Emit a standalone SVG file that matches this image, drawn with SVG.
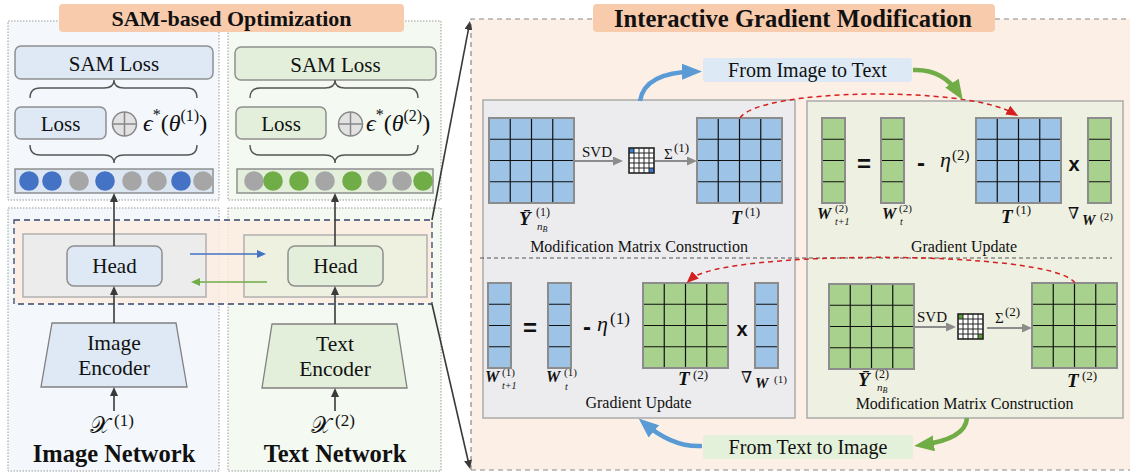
<svg xmlns="http://www.w3.org/2000/svg" width="1130" height="473" viewBox="0 0 1130 473">
<style>
text{font-family:"Liberation Serif","Times New Roman","DejaVu Serif",serif;fill:#111}
.b{font-weight:bold}
.bi{font-weight:bold;font-style:italic}
.i{font-style:italic}
.op{font-family:"Liberation Sans",Arial,sans-serif;font-weight:bold}
.mid{text-anchor:middle}
.panel{stroke:#9a9a9a;stroke-width:1;stroke-dasharray:1.5 1.5}
.box{stroke:#8f8f8f;stroke-width:1.5}
.brace{fill:none;stroke:#555;stroke-width:1.4}
.ar{stroke:#3a3a3a;stroke-width:1.6;fill:none}
.svd{stroke:#8c8c8c;stroke-width:2;fill:none}
.red{stroke:#d42020;stroke-width:1.5;fill:none;stroke-dasharray:5 4}
.big{stroke-width:4.5;fill:none}
.title{fill:#f8cbad}
</style>
<defs>
<marker id="mDark" viewBox="0 0 9 8" refX="3" refY="4" markerWidth="9" markerHeight="8" markerUnits="userSpaceOnUse" orient="auto"><path d="M0,0L9,4L0,8z" fill="#3a3a3a"/></marker>
<marker id="mBlueS" viewBox="0 0 9 8" refX="3" refY="4" markerWidth="9" markerHeight="8" markerUnits="userSpaceOnUse" orient="auto"><path d="M0,0L9,4L0,8z" fill="#4472c4"/></marker>
<marker id="mGreenS" viewBox="0 0 9 8" refX="3" refY="4" markerWidth="9" markerHeight="8" markerUnits="userSpaceOnUse" orient="auto"><path d="M0,0L9,4L0,8z" fill="#70ad47"/></marker>
<marker id="mGray" viewBox="0 0 10 9" refX="4" refY="4.5" markerWidth="10" markerHeight="9" markerUnits="userSpaceOnUse" orient="auto"><path d="M0,0L10,4.5L0,9z" fill="#8c8c8c"/></marker>
<marker id="mRed" viewBox="0 0 12 10" refX="6" refY="5" markerWidth="12" markerHeight="10" markerUnits="userSpaceOnUse" orient="auto"><path d="M0,0L12,5L0,10z" fill="#d42020"/></marker>
<marker id="mBlueB" viewBox="0 0 20 16" refX="13" refY="8" markerWidth="20" markerHeight="16" markerUnits="userSpaceOnUse" orient="auto"><path d="M0,0L20,8L0,16z" fill="#5b9bd5"/></marker>
<marker id="mGreenB" viewBox="0 0 20 16" refX="13" refY="8" markerWidth="20" markerHeight="16" markerUnits="userSpaceOnUse" orient="auto"><path d="M0,0L20,8L0,16z" fill="#70ad47"/></marker>
<g id="mat"><rect width="85" height="85"/><path d="M21.25,0V85M42.5,0V85M63.75,0V85M0,21.25H85M0,42.5H85M0,63.75H85" fill="none" stroke="#111" stroke-width="1.2"/><rect width="85" height="85" fill="none" stroke="#8c8c8c" stroke-width="2"/></g>
<g id="col"><rect width="23" height="85"/><path d="M0,21.25H23M0,42.5H23M0,63.75H23" fill="none" stroke="#111" stroke-width="1.2"/><rect width="23" height="85" fill="none" stroke="#8c8c8c" stroke-width="2"/></g>
<g id="sm"><rect width="25" height="25" fill="#fff"/><rect width="5" height="5"/><rect x="20" y="20" width="5" height="5"/><path d="M5,0V25M10,0V25M15,0V25M20,0V25M0,5H25M0,10H25M0,15H25M0,20H25" fill="none" stroke="#222" stroke-width="1"/><rect width="25" height="25" fill="none" stroke="#222" stroke-width="1.6"/></g>
</defs>

<!-- ===== Left: SAM-based Optimization ===== -->
<g id="panel-image-top"><rect x="8" y="21" width="211" height="179" fill="#f4f8fc" class="panel"/></g>
<g id="panel-text-top"><rect x="228" y="21" width="213" height="179" fill="#f4f9f1" class="panel"/></g>
<g id="panel-image-bottom"><rect x="8" y="208" width="211" height="263" fill="#f4f8fc" class="panel"/></g>
<g id="panel-text-bottom"><rect x="228" y="208" width="213" height="263" fill="#f4f9f1" class="panel"/></g>

<g id="title-sam"><rect x="59" y="4" width="345" height="28" rx="4" class="title"/><text x="231.5" y="26" font-size="22" class="b mid">SAM-based Optimization</text></g>

<g id="sam-loss-image"><rect x="15" y="46" width="198" height="33" rx="6" fill="#dee9f5" class="box"/><text x="114" y="71" font-size="21" class="mid">SAM Loss</text></g>
<g id="sam-loss-text"><rect x="235" y="47" width="201" height="33" rx="6" fill="#e3efda" class="box"/><text x="335.5" y="72" font-size="21" class="mid">SAM Loss</text></g>

<g id="braces">
<path class="brace" d="M30,98Q30,88 40,88L104,88Q114,88 114,80Q114,88 124,88L187,88Q197,88 197,98"/>
<path class="brace" d="M30,145Q30,155 40,155L104,155Q114,155 114,163Q114,155 124,155L187,155Q197,155 197,145"/>
<path class="brace" d="M250,98Q250,88 260,88L325,88Q335,88 335,80Q335,88 345,88L408,88Q418,88 418,98"/>
<path class="brace" d="M250,145Q250,155 260,155L325,155Q335,155 335,163Q335,155 345,155L408,155Q418,155 418,145"/>
</g>

<g id="loss-image"><rect x="15" y="107" width="91" height="32" rx="6" fill="#dee9f5" class="box"/><text x="60.5" y="131" font-size="21" class="mid">Loss</text></g>
<g id="loss-text"><rect x="236" y="107" width="90" height="32" rx="6" fill="#e3efda" class="box"/><text x="281" y="131" font-size="21" class="mid">Loss</text></g>

<g id="plus-image"><circle cx="124.5" cy="124" r="12" fill="#e2e2e2" stroke="#888" stroke-width="1.5"/><path d="M112.5,124H136.5M124.5,112V136" stroke="#888" stroke-width="1.5"/>
<text x="143" y="131" font-size="24"><tspan class="i">ϵ</tspan><tspan font-size="16" dy="-11">*</tspan><tspan dy="11">(</tspan><tspan class="i">θ</tspan><tspan font-size="16" dy="-10">(1)</tspan><tspan dy="10">)</tspan></text></g>
<g id="plus-text"><circle cx="350.5" cy="124" r="12" fill="#e2e2e2" stroke="#888" stroke-width="1.5"/><path d="M338.5,124H362.5M350.5,112V136" stroke="#888" stroke-width="1.5"/>
<text x="366" y="131" font-size="24"><tspan class="i">ϵ</tspan><tspan font-size="16" dy="-11">*</tspan><tspan dy="11">(</tspan><tspan class="i">θ</tspan><tspan font-size="16" dy="-10">(2)</tspan><tspan dy="10">)</tspan></text></g>

<g id="params-image"><rect x="15" y="169" width="198" height="24" fill="#dbe6f2" class="box"/>
<g stroke="none"><circle cx="29" cy="181" r="9.8" fill="#4472c4"/><circle cx="52" cy="181" r="9.8" fill="#4472c4"/><circle cx="79" cy="181" r="9.8" fill="#a6a6a6"/><circle cx="105" cy="181" r="9.8" fill="#4472c4"/><circle cx="132" cy="181" r="9.8" fill="#a6a6a6"/><circle cx="157" cy="181" r="9.8" fill="#a6a6a6"/><circle cx="181" cy="181" r="9.8" fill="#4472c4"/><circle cx="203" cy="181" r="9.8" fill="#a6a6a6"/></g></g>
<g id="params-text"><rect x="237" y="169" width="196" height="24" fill="#e3efda" class="box"/>
<g stroke="none"><circle cx="254" cy="181" r="9.8" fill="#a6a6a6"/><circle cx="273" cy="181" r="9.8" fill="#70ad47"/><circle cx="299" cy="181" r="9.8" fill="#70ad47"/><circle cx="325" cy="181" r="9.8" fill="#a6a6a6"/><circle cx="352" cy="181" r="9.8" fill="#70ad47"/><circle cx="377" cy="181" r="9.8" fill="#a6a6a6"/><circle cx="402" cy="181" r="9.8" fill="#a6a6a6"/><circle cx="423" cy="181" r="9.8" fill="#70ad47"/></g></g>

<g id="head-region"><rect x="14" y="220" width="418" height="84" fill="#fbece1" fill-opacity="0.85" stroke="#34476b" stroke-width="1.3" stroke-dasharray="6 4"/>
<rect x="23" y="234" width="183" height="63" fill="#ececec" stroke="#b0b0b0" stroke-width="1.5"/>
<rect x="244" y="235" width="183" height="62" fill="#eef0e0" stroke="#b0b0b0" stroke-width="1.5"/></g>
<g id="head-image"><rect x="67" y="246" width="95" height="40" rx="7" fill="#dee9f5" class="box"/><text x="114.5" y="273" font-size="21" class="mid">Head</text></g>
<g id="head-text"><rect x="288" y="246" width="95" height="40" rx="7" fill="#e3efda" class="box"/><text x="335.5" y="273" font-size="21" class="mid">Head</text></g>

<g id="image-encoder"><polygon points="52,323 176,323 187,387 41,387" fill="#dee9f5" stroke="#808080" stroke-width="1.3"/><text x="114" y="350" font-size="21.5" class="mid">Image</text><text x="114" y="375" font-size="21.5" class="mid">Encoder</text></g>
<g id="text-encoder"><polygon points="272,324 397,324 407,388 262,388" fill="#e3efda" stroke="#808080" stroke-width="1.3"/><text x="335" y="351" font-size="21.5" class="mid">Text</text><text x="335" y="376" font-size="21.5" class="mid">Encoder</text></g>

<g id="input-image"><text x="90" y="433" font-size="23">𝒳</text><text x="114" y="426" font-size="17">(1)</text><text x="114" y="462" font-size="24.5" class="b mid">Image Network</text></g>
<g id="input-text"><text x="311" y="433" font-size="23">𝒳</text><text x="335" y="426" font-size="17">(2)</text><text x="335" y="462" font-size="24.5" class="b mid">Text Network</text></g>

<!-- ===== Right: Interactive Gradient Modification ===== -->
<g id="igm-panel"><rect x="471" y="19" width="665" height="451" fill="#fcefe6"/>
<path d="M471,470V19H593M995,19H1135M471,470H1135" fill="none" stroke="#888" stroke-width="1.2" stroke-dasharray="5 4"/></g>
<g id="title-igm"><rect x="593" y="4" width="402" height="28" rx="4" class="title"/><text x="793" y="27" font-size="25" class="b mid" textLength="358" lengthAdjust="spacingAndGlyphs">Interactive Gradient Modification</text></g>

<g id="box-image-side"><rect x="483" y="100" width="312" height="318" fill="#ececee" stroke="#ababab" stroke-width="1.5"/></g>
<g id="box-text-side"><rect x="807" y="101" width="316" height="317" fill="#eef0e1" stroke="#ababab" stroke-width="1.5"/></g>
<path d="M480,258H1112" stroke="#555" stroke-width="1" stroke-dasharray="4 3"/>

<g id="mmc-image">
<use href="#mat" x="489" y="118" fill="#9dc3e6"/>
<use href="#sm" x="629" y="148" fill="#3d7cc9"/>
<use href="#mat" x="697" y="118" fill="#9dc3e6"/>
<text x="582" y="157" font-size="15">SVD</text>
<text x="664" y="159" font-size="15">Σ</text><text x="674" y="152" font-size="13">(1)</text>
<text x="519" y="225" font-size="19" class="bi">Ȳ</text><text x="536" y="216" font-size="12">(1)</text><text x="537" y="230" font-size="11" class="i">n<tspan font-size="8" dy="1.5">B</tspan></text>
<text x="731" y="224" font-size="18" class="bi">T</text><text x="745" y="216" font-size="13">(1)</text>
<text x="639" y="252" font-size="16" class="mid">Modification Matrix Construction</text>
</g>

<g id="gu-text">
<use href="#col" x="822" y="118" fill="#a9d18e"/>
<use href="#col" x="881" y="118" fill="#a9d18e"/>
<use href="#mat" x="976" y="118" fill="#9dc3e6"/>
<use href="#col" x="1088" y="118" fill="#a9d18e"/>
<text x="864" y="172" font-size="24" class="op mid">=</text>
<text x="921" y="171" font-size="24" class="op mid">-</text>
<text x="940" y="167" font-size="22" class="i">η</text><text x="952" y="160" font-size="15">(2)</text>
<text x="1074" y="171" font-size="20" class="op mid">x</text>
<text x="817" y="219" font-size="16" class="bi">W</text><text x="835" y="212" font-size="11">(2)</text><text x="835" y="225" font-size="10" class="i">t+1</text>
<text x="882" y="219" font-size="16" class="bi">W</text><text x="899" y="212" font-size="11">(2)</text><text x="900" y="225" font-size="10" class="i">t</text>
<text x="1001" y="223" font-size="19" class="bi">T</text><text x="1016" y="214" font-size="13">(1)</text>
<text x="1068" y="219" font-size="16">∇</text><text x="1082" y="225" font-size="15" class="bi">W</text><text x="1100" y="220" font-size="11">(2)</text>
<text x="964" y="252" font-size="16" class="mid">Gradient Update</text>
</g>

<g id="gu-image">
<use href="#col" x="488" y="283" fill="#9dc3e6"/>
<use href="#col" x="548" y="283" fill="#9dc3e6"/>
<use href="#mat" x="643" y="283" fill="#a9d18e"/>
<use href="#col" x="755" y="283" fill="#9dc3e6"/>
<text x="530" y="336" font-size="24" class="op mid">=</text>
<text x="587" y="335" font-size="24" class="op mid">-</text>
<text x="597" y="331" font-size="22" class="i">η</text><text x="610" y="324" font-size="17">(1)</text>
<text x="742" y="336" font-size="20" class="op mid">x</text>
<text x="485" y="382" font-size="16" class="bi">W</text><text x="502" y="376" font-size="11">(1)</text><text x="502" y="389" font-size="10" class="i">t+1</text>
<text x="546" y="382" font-size="16" class="bi">W</text><text x="564" y="376" font-size="11">(1)</text><text x="565" y="390" font-size="10" class="i">t</text>
<text x="678" y="385" font-size="19" class="bi">T</text><text x="693" y="379" font-size="13">(2)</text>
<text x="741" y="383" font-size="16">∇</text><text x="755" y="388" font-size="15" class="bi">W</text><text x="774" y="383" font-size="11">(1)</text>
<text x="638.5" y="408" font-size="16" class="mid">Gradient Update</text>
</g>

<g id="mmc-text">
<use href="#mat" x="829" y="284" fill="#a9d18e"/>
<use href="#sm" x="958" y="314" fill="#5a9e3a"/>
<use href="#mat" x="1032" y="283" fill="#a9d18e"/>
<text x="917" y="322" font-size="15">SVD</text>
<text x="995" y="323" font-size="15">Σ</text><text x="1005" y="316" font-size="13">(2)</text>
<text x="858" y="386" font-size="19" class="bi">Ȳ</text><text x="875" y="378" font-size="12">(2)</text><text x="877" y="391" font-size="11" class="i">n<tspan font-size="8" dy="1.5">B</tspan></text>
<text x="1067" y="387" font-size="19" class="bi">T</text><text x="1082" y="380" font-size="13">(2)</text>
<text x="964.5" y="409" font-size="16" class="mid">Modification Matrix Construction</text>
</g>

<g id="label-img2txt"><rect x="703" y="58" width="209" height="24" rx="3" fill="#ddeaf6"/><text x="807.5" y="77" font-size="20" class="mid">From Image to Text</text></g>
<g id="label-txt2img"><rect x="703" y="435" width="210" height="24" rx="3" fill="#e3f0da"/><text x="808" y="454" font-size="20" class="mid">From Text to Image</text></g>

<!-- ===== Connectors ===== -->
<g id="connectors">
<path class="ar" d="M114,411V393" marker-end="url(#mDark)"/>
<path class="ar" d="M114,323V292" marker-end="url(#mDark)"/>
<path class="ar" d="M114,246V199" marker-end="url(#mDark)"/>
<path class="ar" d="M335,411V394" marker-end="url(#mDark)"/>
<path class="ar" d="M335,324V292" marker-end="url(#mDark)"/>
<path class="ar" d="M335,246V199" marker-end="url(#mDark)"/>
<path d="M190,254H260" stroke="#4472c4" stroke-width="1.5" fill="none" marker-end="url(#mBlueS)"/>
<path d="M267,282H197" stroke="#70ad47" stroke-width="1.5" fill="none" marker-end="url(#mGreenS)"/>
<path class="ar" stroke-width="1.3" d="M432,220L468.9,26.9" marker-end="url(#mDark)"/>
<path class="ar" stroke-width="1.3" d="M432,304L468.7,463.2" marker-end="url(#mDark)"/>
<path class="svd" d="M574,161H617" marker-end="url(#mGray)"/>
<path class="svd" d="M655,161H691" marker-end="url(#mGray)"/>
<path class="svd" d="M914,327H950" marker-end="url(#mGray)"/>
<path class="svd" d="M987,328H1026" marker-end="url(#mGray)"/>
<path class="red" d="M740,118C760,88 965,86 1013,113" marker-end="url(#mRed)"/>
<path class="red" d="M1075,283C1052,249 722,250 691,279" marker-end="url(#mRed)"/>
<path class="big" stroke="#5b9bd5" d="M640,101C643,82 660,72 695,71.5" marker-end="url(#mBlueB)"/>
<path class="big" stroke="#70ad47" d="M913,70C935,69 950,80 959,94" marker-end="url(#mGreenB)"/>
<path class="big" stroke="#5b9bd5" d="M702,446C685,447 665,441 644,423" marker-end="url(#mBlueB)"/>
<path class="big" stroke="#70ad47" d="M967,418C966,432 952,441 921,445" marker-end="url(#mGreenB)"/>
</g>
</svg>
